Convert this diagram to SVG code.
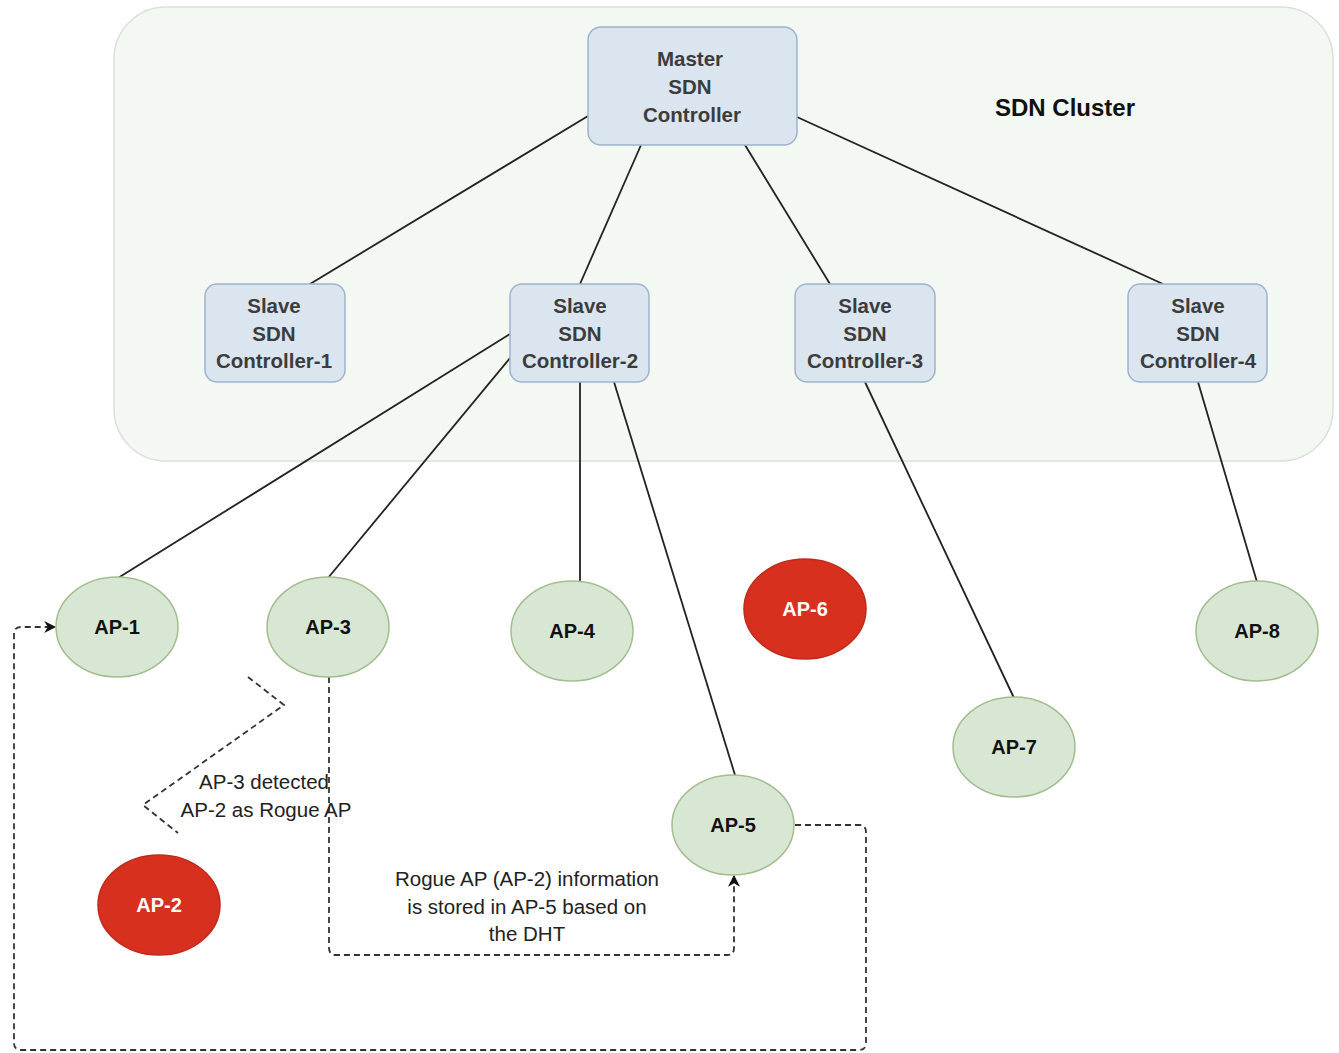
<svg xmlns="http://www.w3.org/2000/svg" width="1339" height="1053" viewBox="0 0 1339 1053">
  <style>
    .cluster { fill: #f3f8f2; stroke: #dcdfdc; stroke-width: 1.5; }
    .ctrl { fill: #dae5ef; stroke: #9fb3cb; stroke-width: 1.5; }
    .ctrl-text { font-family: "Liberation Sans", Arial, sans-serif; font-weight: bold; font-size: 20.5px; fill: #3c3c3c; text-anchor: middle; }
    .ap { fill: #d8e7d3; stroke: #a3bd8f; stroke-width: 1.5; }
    .rogue { fill: #d8301f; stroke: #c02a1c; stroke-width: 1.5; }
    .ap-text { font-family: "Liberation Sans", Arial, sans-serif; font-weight: bold; font-size: 20px; fill: #111; text-anchor: middle; }
    .rogue-text { font-family: "Liberation Sans", Arial, sans-serif; font-weight: bold; font-size: 20px; fill: #fff; text-anchor: middle; }
    .title { font-family: "Liberation Sans", Arial, sans-serif; font-weight: bold; font-size: 24px; fill: #111; }
    .note { font-family: "Liberation Sans", Arial, sans-serif; font-size: 20.5px; fill: #222; text-anchor: middle; }
    .link { stroke: #222; stroke-width: 1.8; fill: none; }
    .dash { stroke: #333; stroke-width: 1.8; fill: none; stroke-dasharray: 6 4; }
  </style>
  <defs>
    <marker id="arrow" viewBox="0 0 10 10" refX="9" refY="5" markerWidth="12" markerHeight="12" orient="auto" markerUnits="userSpaceOnUse">
      <path d="M0,0 L10,5 L0,10 L3,5 Z" fill="#111"/>
    </marker>
  </defs>

  <rect width="1339" height="1053" fill="#ffffff"/>

  <!-- cluster background -->
  <g id="sdn-cluster">
    <rect class="cluster" x="114" y="7" width="1219" height="454" rx="52" ry="52"/>
    <text class="title" x="995" y="116">SDN Cluster</text>
  </g>

  <!-- connectors -->
  <g id="connectors">
    <line class="link" x1="588" y1="116" x2="310" y2="284"/>
    <line class="link" x1="641" y1="145" x2="580" y2="284"/>
    <line class="link" x1="745" y1="145" x2="830" y2="284"/>
    <line class="link" x1="797" y1="117" x2="1163" y2="284"/>
    <line class="link" x1="510" y1="334" x2="118" y2="578"/>
    <line class="link" x1="510" y1="358" x2="328" y2="578"/>
    <line class="link" x1="580" y1="382" x2="580" y2="582"/>
    <line class="link" x1="614" y1="382" x2="735" y2="775"/>
    <line class="link" x1="865" y1="382" x2="1014" y2="698"/>
    <line class="link" x1="1198" y1="382" x2="1257" y2="582"/>

    <!-- detection zigzag -->
    <polyline class="dash" points="248,677 284,705 143,805 178,833"/>
    <!-- AP-3 to AP-5 -->
    <path class="dash" d="M329,677 V948 Q329,955 336,955 H727 Q734,955 734,948 V876" marker-end="url(#arrow)"/>
    <!-- AP-5 back to AP-1 -->
    <path class="dash" d="M795,825 H859 Q866,825 866,832 V1043 Q866,1050 859,1050 H21 Q14,1050 14,1043 V634 Q14,627 21,627 H55" marker-end="url(#arrow)"/>
  </g>

  <!-- controllers -->
  <g id="master-controller">
    <rect class="ctrl" x="588" y="27" width="209" height="118" rx="13"/>
    <text class="ctrl-text" x="690" y="66">Master</text>
    <text class="ctrl-text" x="690" y="94">SDN</text>
    <text class="ctrl-text" x="692" y="122">Controller</text>
  </g>
  <g id="slave-controller-1">
    <rect class="ctrl" x="205" y="284" width="140" height="98" rx="12"/>
    <text class="ctrl-text" x="274" y="313">Slave</text>
    <text class="ctrl-text" x="274" y="341">SDN</text>
    <text class="ctrl-text" x="274" y="368">Controller-1</text>
  </g>
  <g id="slave-controller-2">
    <rect class="ctrl" x="510" y="284" width="139" height="98" rx="12"/>
    <text class="ctrl-text" x="580" y="313">Slave</text>
    <text class="ctrl-text" x="580" y="341">SDN</text>
    <text class="ctrl-text" x="580" y="368">Controller-2</text>
  </g>
  <g id="slave-controller-3">
    <rect class="ctrl" x="795" y="284" width="140" height="98" rx="12"/>
    <text class="ctrl-text" x="865" y="313">Slave</text>
    <text class="ctrl-text" x="865" y="341">SDN</text>
    <text class="ctrl-text" x="865" y="368">Controller-3</text>
  </g>
  <g id="slave-controller-4">
    <rect class="ctrl" x="1128" y="284" width="139" height="98" rx="12"/>
    <text class="ctrl-text" x="1198" y="313">Slave</text>
    <text class="ctrl-text" x="1198" y="341">SDN</text>
    <text class="ctrl-text" x="1198" y="368">Controller-4</text>
  </g>

  <!-- access points -->
  <g id="ap-1">
    <ellipse class="ap" cx="117" cy="627" rx="61" ry="50"/>
    <text class="ap-text" x="117" y="634">AP-1</text>
  </g>
  <g id="ap-3">
    <ellipse class="ap" cx="328" cy="627" rx="61" ry="50"/>
    <text class="ap-text" x="328" y="634">AP-3</text>
  </g>
  <g id="ap-4">
    <ellipse class="ap" cx="572" cy="631" rx="61" ry="50"/>
    <text class="ap-text" x="572" y="638">AP-4</text>
  </g>
  <g id="ap-6">
    <ellipse class="rogue" cx="805" cy="609" rx="61" ry="50"/>
    <text class="rogue-text" x="805" y="616">AP-6</text>
  </g>
  <g id="ap-8">
    <ellipse class="ap" cx="1257" cy="631" rx="61" ry="50"/>
    <text class="ap-text" x="1257" y="638">AP-8</text>
  </g>
  <g id="ap-7">
    <ellipse class="ap" cx="1014" cy="747" rx="61" ry="50"/>
    <text class="ap-text" x="1014" y="754">AP-7</text>
  </g>
  <g id="ap-5">
    <ellipse class="ap" cx="733" cy="825" rx="61" ry="50"/>
    <text class="ap-text" x="733" y="832">AP-5</text>
  </g>
  <g id="ap-2">
    <ellipse class="rogue" cx="159" cy="905" rx="61" ry="50"/>
    <text class="rogue-text" x="159" y="912">AP-2</text>
  </g>

  <!-- edge labels -->
  <g id="labels">
    <text class="note" x="264" y="789">AP-3 detected</text>
    <text class="note" x="266" y="817">AP-2 as Rogue AP</text>
    <text class="note" x="527" y="886">Rogue AP (AP-2) information</text>
    <text class="note" x="527" y="914">is stored in AP-5 based on</text>
    <text class="note" x="527" y="941">the DHT</text>
  </g>
</svg>
